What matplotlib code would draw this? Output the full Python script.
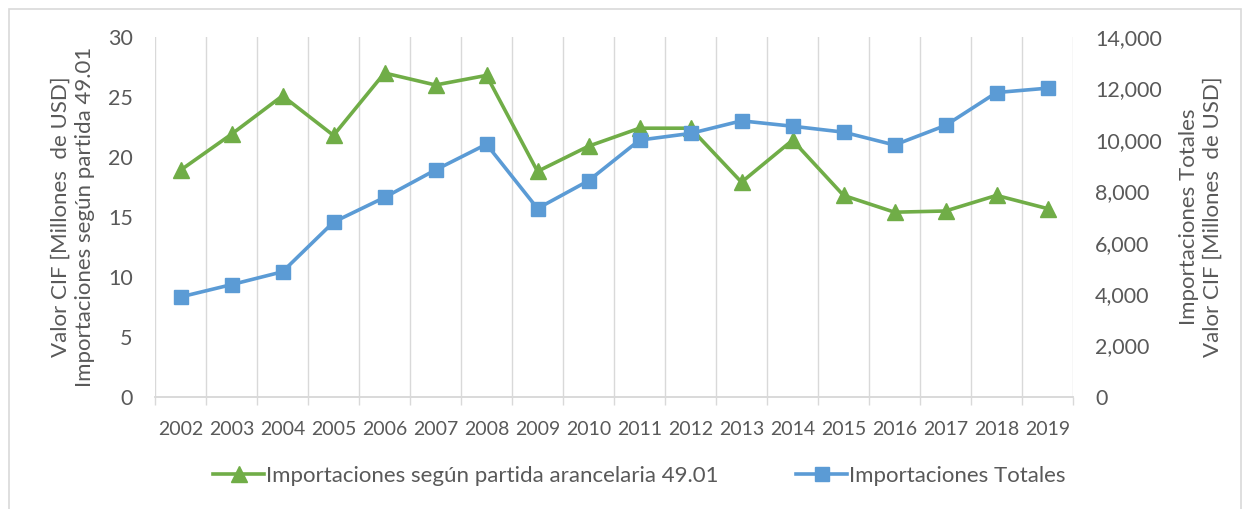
import matplotlib
matplotlib.use("Agg")
import matplotlib.pyplot as plt
from matplotlib.ticker import FuncFormatter, FixedLocator
from matplotlib.patches import Rectangle

years = ["2002", "2003", "2004", "2005", "2006", "2007", "2008", "2009", "2010",
         "2011", "2012", "2013", "2014", "2015", "2016", "2017", "2018", "2019"]
partida_4901 = [18.9, 21.9, 25.1, 21.8, 27.0, 26.0, 26.8, 18.8, 20.9,
                22.4, 22.4, 17.9, 21.4, 16.8, 15.4, 15.5, 16.8, 15.7]
totales = [3890, 4370, 4870, 6800, 7760, 8830, 9830, 7330, 8410,
           9990, 10250, 10740, 10530, 10300, 9800, 10560, 11840, 12010]

label_green = "Importaciones según partida arancelaria 49.01"
label_blue = "Importaciones Totales"
ylabel_left = "Valor CIF [Millones  de USD]\nImportaciones según partida 49.01"
ylabel_right = "Importaciones Totales\nValor CIF [Millones  de USD]"

plt.rcParams['font.family'] = ['Lato', 'DejaVu Sans']
GREEN = "#70AD47"
BLUE = "#5B9BD5"
TXT = "#595959"
GRID = "#D9D9D9"

fig = plt.figure(figsize=(12.51, 5.09), dpi=100)
ax = fig.add_axes([155/1251, 1-397/509, (1073-155)/1251, (397-37)/509])
ax2 = ax.twinx()

x = list(range(len(years)))
ax.plot(x, partida_4901, color=GREEN, lw=2.6, marker="^", ms=11,
        label=label_green, zorder=3, solid_joinstyle="round")
ax2.plot(x, totales, color=BLUE, lw=2.6, marker="s", ms=10,
         label=label_blue, zorder=3, solid_joinstyle="round")

ax.set_xlim(-0.5, len(years) - 0.5)
ax.set_ylim(0, 30)
ax2.set_ylim(0, 14000)
ax.set_yticks(range(0, 31, 5))
ax2.set_yticks(range(0, 14001, 2000))
ax2.yaxis.set_major_formatter(FuncFormatter(lambda v, p: f"{int(v):,}"))

ax.set_xticks(x)
ax.set_xticklabels(years)
ax.xaxis.set_minor_locator(FixedLocator([i - 0.5 for i in range(len(years) + 1)]))
ax.tick_params(axis="x", which="major", length=0, pad=17, labelsize=14, colors=TXT)
ax.tick_params(axis="x", which="minor", length=6, width=1, color=GRID)
ax.grid(axis="x", which="minor", color=GRID, lw=1)
ax.tick_params(axis="y", length=0, labelsize=15.5, colors=TXT, pad=16)
ax2.tick_params(axis="y", length=0, labelsize=15.5, colors=TXT, pad=16)

for a in (ax, ax2):
    for s in ("top", "left", "right"):
        a.spines[s].set_visible(False)
    a.spines["bottom"].set_color(GRID)
    a.spines["bottom"].set_linewidth(1.2)

ax.set_ylabel(ylabel_left, fontsize=16, color=TXT, linespacing=1.25)
ax2.set_ylabel(ylabel_right, fontsize=16, color=TXT, linespacing=1.25,
               rotation=90, va="center")
ax.yaxis.label.set_va("center")
ax.yaxis.set_label_coords((73 - 155) / 918, 0.5)
ax2.yaxis.set_label_coords((1201 - 155) / 918, 0.5)

h1, l1 = ax.get_legend_handles_labels()
h2, l2 = ax2.get_legend_handles_labels()
fig.legend(h1 + h2, l1 + l2, loc="center", bbox_to_anchor=(0.511, 1-476/509),
           ncol=2, frameon=False, fontsize=16, labelcolor=TXT,
           handlelength=2.3, handletextpad=0.08, columnspacing=3.5)

fig.patches.append(Rectangle((9/1251, -0.05), (1241-9)/1251, 1-9/509 + 0.05,
                             transform=fig.transFigure, fill=False,
                             edgecolor=GRID, lw=1.2))

fig.savefig("out.png", dpi=100)
